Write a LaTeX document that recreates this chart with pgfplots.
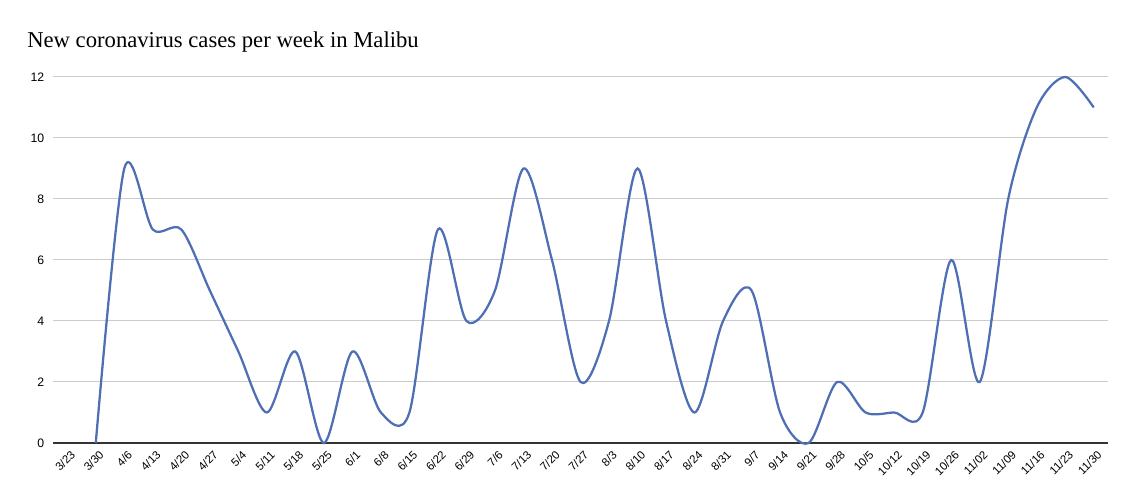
\documentclass[border=0pt]{standalone}
\usepackage{pgfplots}
\pgfplotsset{compat=1.18}
\usepackage{fontspec}
\setmainfont{Liberation Sans}
\newfontfamily\titlefont{Liberation Serif}
\definecolor{lineblue}{HTML}{4F6FB5}
\definecolor{gridgray}{HTML}{CCCCCC}
\definecolor{axisdark}{HTML}{333333}
\begin{document}
\begin{tikzpicture}
\begin{axis}[
    at={(0,0)}, anchor=south west,
    scale only axis,
    width=791.25pt, height=274.5pt,
    xmin=-0.5, xmax=36.5,
    ymin=0, ymax=12,
    ytick={0,2,4,6,8,10,12},
    xtick={0,...,36},
    xticklabels={3/23,3/30,4/6,4/13,4/20,4/27,5/4,5/11,5/18,5/25,6/1,6/8,6/15,6/22,6/29,7/6,7/13,7/20,7/27,8/3,8/10,8/17,8/24,8/31,9/7,9/14,9/21,9/28,10/5,10/12,10/19,10/26,11/02,11/09,11/16,11/23,11/30},
    axis line style={draw=none},
    major tick length=0pt,
    ymajorgrids, grid style={gridgray, line width=0.75pt},
    xticklabel style={font=\fontsize{8.6}{10}\selectfont, rotate=45, anchor=north east, inner sep=1pt, xshift=-1pt, yshift=-4pt},
    yticklabel style={font=\fontsize{9.2}{11}\selectfont, xshift=-3pt},
    /pgf/number format/assume math mode=true,
    clip=false,
]
\draw[axisdark, line width=1pt] (rel axis cs:0,0) -- (rel axis cs:1,0);
\addplot[lineblue, line width=1.7pt, smooth, tension=0.5, mark=none]
  coordinates {
    (1,0) (2,9) (3,7) (4,7) (5,5) (6,3) (7,1) (8,3) (9,0) (10,3)
    (11,1) (12,1) (13,7) (14,4) (15,5) (16,9) (17,6) (18,2) (19,4) (20,9)
    (21,4) (22,1) (23,4) (24,5) (25,1) (26,0) (27,2) (28,1) (29,1) (30,1)
    (31,6) (32,2) (33,8) (34,11) (35,12) (36,11)
  };
\end{axis}
\node[anchor=base west, inner sep=0pt, font=\titlefont\fontsize{17}{20}\selectfont]
  at (-19.5pt, 296.5pt) {New coronavirus cases per week in Malibu};
\path[use as bounding box] (-39.75pt,-44.25pt) rectangle (810.75pt,332.25pt);
\end{tikzpicture}
\end{document}
